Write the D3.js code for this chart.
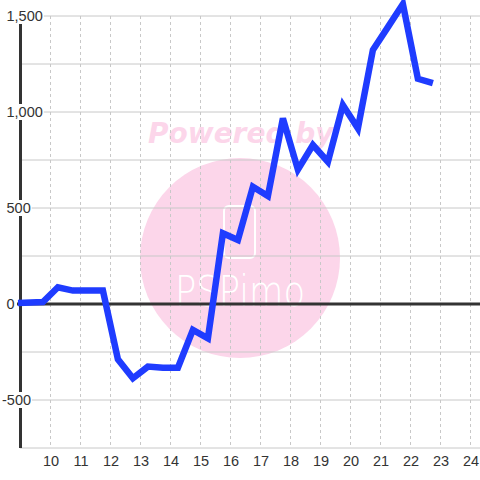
<!DOCTYPE html>
<html>
<head>
<meta charset="utf-8">
<script src="https://cdn.jsdelivr.net/npm/d3@7"></script>
<style>
  html, body { margin: 0; padding: 0; background: #fff; }
  svg { display: block; }
</style>
</head>
<body>
<script>
// ---- data ----
const times  = [8.9, 9.73, 10.23, 10.73, 11.23, 11.73, 12.23, 12.73, 13.23, 13.73, 14.23, 14.73, 15.23, 15.73,
                16.23, 16.73, 17.23, 17.73, 18.23, 18.73, 19.23, 19.73, 20.23, 20.73, 21.23, 21.73, 22.23, 22.73];
const values = [5, 10, 87, 70, 70, 70, -288, -387, -326, -332, -332, -135, -179, 368,
                333, 611, 562, 967, 700, 828, 741, 1036, 915, 1323, 1442, 1562, 1173, 1150];
const xTicks = [10, 11, 12, 13, 14, 15, 16, 17, 18, 19, 20, 21, 22, 23, 24];
const yGrid  = [-750, -500, -250, 0, 250, 500, 750, 1000, 1250, 1500];
const yLabels = [1500, 1000, 500, 0, -500];

const W = 480, H = 480;
const svg = d3.select("body").append("svg").attr("width", W).attr("height", H);
svg.append("rect").attr("width", W).attr("height", H).attr("fill", "#fff");

const x = d3.scaleLinear().domain([8.9, 24.3]).range([18, 480]);
const y = d3.scaleLinear().domain([-750, 1500]).range([448, 16]);

// ---- watermark ----
const wm = svg.append("g");
wm.append("circle").attr("cx", 240).attr("cy", 258).attr("r", 100).attr("fill", "#fcd6ea");
wm.append("text").attr("x", 148).attr("y", 143)
  .attr("font-family", "DejaVu Sans").attr("font-weight", "bold").attr("font-style", "italic")
  .attr("font-size", 28).attr("fill", "#fcd6ea").text("Powered by");
wm.append("rect").attr("x", 224).attr("y", 206).attr("width", 31).attr("height", 52).attr("rx", 5)
  .attr("fill", "none").attr("stroke", "#fff").attr("stroke-width", 2);
wm.append("text").attr("x", 175).attr("y", 306)
  .attr("font-family", "DejaVu Sans").attr("font-weight", 200)
  .attr("font-size", 42).attr("fill", "#fff")
  .attr("textLength", 130).attr("lengthAdjust", "spacingAndGlyphs").text("PSPimo");

// ---- grid ----
svg.append("g").selectAll("line").data(yGrid.filter(d => d !== 0)).join("line")
  .attr("x1", 20).attr("x2", 480).attr("y1", d => y(d)).attr("y2", d => y(d))
  .attr("stroke", "#c8c8c8").attr("stroke-width", 1);
svg.append("g").selectAll("line").data(xTicks).join("line")
  .attr("x1", d => Math.round(x(d)) - 0.5).attr("x2", d => Math.round(x(d)) - 0.5)
  .attr("y1", y(1500)).attr("y2", y(-750))
  .attr("stroke", "#c8c8c8").attr("stroke-width", 1).attr("stroke-dasharray", "3,3");

// zero line
svg.append("line").attr("x1", 17).attr("x2", 480).attr("y1", y(0)).attr("y2", y(0))
  .attr("stroke", "#333").attr("stroke-width", 3);
// left axis
svg.append("line").attr("x1", 20.5).attr("x2", 20.5).attr("y1", y(1500)).attr("y2", y(-750))
  .attr("stroke", "#333").attr("stroke-width", 3);

// y labels with white background
const fmt = d3.format(",");
const yl = svg.append("g");
yLabels.forEach(v => {
  const g = yl.append("g");
  const t = g.append("text")
    .attr("x", v < 0 ? 2 : 6.5).attr("y", y(v)).attr("dy", "0.35em")
    .attr("font-family", "Liberation Sans, Arial, sans-serif").attr("font-size", 14.5)
    .attr("fill", "#333").text(v < 0 ? "-" + fmt(-v) : fmt(v));
  const b = t.node().getBBox();
  g.insert("rect", "text").attr("x", b.x - 1).attr("y", y(v) - 8).attr("width", b.width + 2).attr("height", 16)
    .attr("fill", "#fff");
});

// x labels
svg.append("g").selectAll("text").data(xTicks).join("text")
  .attr("x", d => x(d)).attr("y", 466).attr("text-anchor", "middle")
  .attr("font-family", "Liberation Sans, Arial, sans-serif").attr("font-size", 14.5)
  .attr("fill", "#333").text(d => d);

// ---- series line ----
const pts = times.map((t, i) => [t, values[i]]);
svg.append("path").datum(pts)
  .attr("d", d3.line().x(d => x(d[0])).y(d => y(d[1])))
  .attr("fill", "none").attr("stroke", "#1f3cff").attr("stroke-width", 6.5)
  .attr("stroke-linejoin", "miter").attr("stroke-linecap", "butt");
</script>
</body>
</html>
